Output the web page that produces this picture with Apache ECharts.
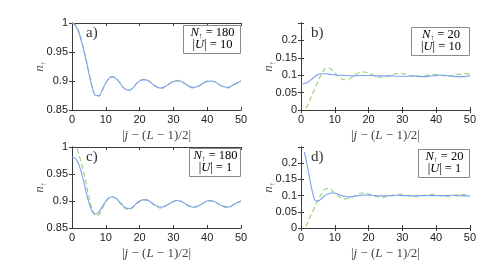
<!DOCTYPE html>
<html><head><meta charset="utf-8">
<script src="https://cdn.jsdelivr.net/npm/echarts@6/dist/echarts.min.js"></script>
<style>html,body{margin:0;padding:0;background:#fff}#c{width:479px;height:261px}</style>
</head><body><div id="c"></div>
<script>
// ---- data ----
const panelLabels = ['a)', 'b)', 'c)', 'd)'];
const legendN = [180, 20, 180, 20];
const legendU = [10, 10, 1, 1];
const xTicks = [0, 10, 20, 30, 40, 50];
const yTicksTop = [0.85, 0.9, 0.95, 1];
const yTicksBottom = [0, 0.05, 0.1, 0.15, 0.2];

const xInt = [0,1,2,3,4,5,6,7,8,9,10,11,12,13,14,15,16,17,18,19,20,21,22,23,24,25,26,27,28,29,30,31,32,33,34,35,36,37,38,39,40,41,42,43,44,45,46,47,48,49,50];

const aBlue = [1.0,0.996,0.984,0.964,0.94,0.913,0.889,0.875,0.875,0.885,0.897,0.905,0.907,0.904,0.898,0.890,0.885,0.884,0.888,0.895,0.900,0.902,0.902,0.899,0.894,0.890,0.888,0.889,0.892,0.896,0.899,0.900,0.900,0.897,0.893,0.890,0.889,0.890,0.893,0.897,0.899,0.900,0.899,0.896,0.892,0.890,0.889,0.891,0.894,0.897,0.900];
const aGreen = [1.0,0.997,0.986,0.966,0.942,0.914,0.889,0.874,0.874,0.884,0.897,0.905,0.908,0.905,0.898,0.890,0.885,0.884,0.888,0.895,0.900,0.903,0.902,0.899,0.894,0.890,0.887,0.888,0.892,0.896,0.899,0.901,0.900,0.897,0.893,0.889,0.888,0.890,0.893,0.897,0.900,0.900,0.899,0.896,0.892,0.889,0.888,0.890,0.894,0.897,0.900];

const bBlue = [0.075,0.076,0.080,0.087,0.095,0.101,0.104,0.104,0.103,0.102,0.101,0.100,0.100,0.099,0.099,0.098,0.098,0.099,0.099,0.099,0.099,0.099,0.098,0.098,0.098,0.098,0.098,0.098,0.097,0.097,0.097,0.097,0.097,0.098,0.098,0.097,0.096,0.096,0.097,0.098,0.099,0.100,0.100,0.099,0.098,0.097,0.096,0.096,0.096,0.097,0.098];
const bGreenX = [1.5,2,3,4,5,6,7,8,9,10,11,12,13,14,15,16,17,18,19,20,21,22,23,24,25,26,27,28,29,30,31,32,33,34,35,36,37,38,39,40,41,42,43,44,45,46,47,48,49,50];
const bGreen = [0.005,0.016,0.038,0.060,0.082,0.102,0.118,0.122,0.117,0.107,0.097,0.090,0.087,0.088,0.093,0.100,0.106,0.109,0.109,0.106,0.102,0.098,0.095,0.094,0.095,0.098,0.101,0.104,0.105,0.105,0.103,0.100,0.097,0.096,0.096,0.097,0.099,0.101,0.102,0.102,0.101,0.099,0.098,0.098,0.099,0.101,0.103,0.104,0.104,0.103];

const cBlue = [0.981,0.979,0.968,0.948,0.922,0.897,0.880,0.876,0.880,0.890,0.900,0.906,0.908,0.905,0.899,0.892,0.887,0.886,0.889,0.895,0.900,0.902,0.902,0.899,0.895,0.891,0.889,0.889,0.892,0.896,0.899,0.901,0.900,0.897,0.893,0.890,0.889,0.890,0.893,0.897,0.900,0.901,0.899,0.896,0.892,0.890,0.889,0.890,0.894,0.897,0.900];
const cGreenX = [1.5,2,3,4,5,6,7,8,9,10,11,12,13,14,15,16,17,18,19,20,21,22,23,24,25,26,27,28,29,30,31,32,33,34,35,36,37,38,39,40,41,42,43,44,45,46,47,48,49,50];
const cGreen = [0.997,0.987,0.965,0.938,0.908,0.884,0.873,0.875,0.886,0.898,0.906,0.908,0.905,0.898,0.890,0.885,0.884,0.888,0.894,0.899,0.902,0.902,0.899,0.894,0.890,0.887,0.888,0.892,0.896,0.899,0.901,0.900,0.897,0.893,0.889,0.888,0.890,0.893,0.897,0.900,0.900,0.899,0.896,0.892,0.889,0.888,0.890,0.894,0.897,0.900];

const dBlueX = [1,2,3,4,5,6,7,8,9,10,11,12,13,14,15,16,17,18,19,20,21,22,23,24,25,26,27,28,29,30,31,32,33,34,35,36,37,38,39,40,41,42,43,44,45,46,47,48,49,50];
const dBlue = [0.235,0.185,0.130,0.088,0.083,0.090,0.099,0.105,0.108,0.107,0.104,0.100,0.097,0.096,0.096,0.098,0.100,0.101,0.102,0.102,0.101,0.100,0.099,0.099,0.099,0.100,0.100,0.101,0.101,0.100,0.100,0.100,0.099,0.099,0.100,0.100,0.100,0.100,0.100,0.100,0.100,0.100,0.100,0.101,0.101,0.100,0.100,0.099,0.099,0.099];
const dGreenX = [1.5,2,3,4,5,6,7,8,9,10,11,12,13,14,15,16,17,18,19,20,21,22,23,24,25,26,27,28,29,30,31,32,33,34,35,36,37,38,39,40,41,42,43,44,45,46,47,48,49,50];
const dGreen = [0.005,0.018,0.040,0.063,0.085,0.105,0.119,0.122,0.117,0.108,0.099,0.093,0.090,0.091,0.095,0.100,0.105,0.108,0.108,0.105,0.101,0.098,0.096,0.095,0.096,0.098,0.101,0.103,0.104,0.103,0.101,0.099,0.097,0.097,0.098,0.100,0.102,0.103,0.103,0.102,0.100,0.098,0.097,0.098,0.100,0.102,0.103,0.103,0.102,0.100];

// ---- chart ----
const BLUE = '#7f9ff5';
const GREEN = '#8ed46c';
const AX = '#3a3a3a';
const grids = [
  {left: 72, top: 23, width: 169, height: 87},
  {left: 301, top: 23, width: 169, height: 87},
  {left: 72, top: 147, width: 169, height: 87},
  {left: 301, top: 147, width: 169, height: 87}
];
const yRanges = [
  {min: 0.85, max: 1, interval: 0.05},
  {min: 0, max: 0.25, interval: 0.05},
  {min: 0.85, max: 1, interval: 0.05},
  {min: 0, max: 0.25, interval: 0.05}
];
const pair = (xs, ys) => xs.map((x, i) => [x, ys[i]]);
const seriesData = [
  [pair(xInt, aBlue), pair(xInt, aGreen)],
  [pair(xInt, bBlue), pair(bGreenX, bGreen)],
  [pair(xInt, cBlue), pair(cGreenX, cGreen)],
  [pair(dBlueX, dBlue), pair(dGreenX, dGreen)]
];
const serif = '"Liberation Serif", "DejaVu Serif", serif';
const sans = '"Liberation Sans", Arial, sans-serif';
const mathRich = {
  i: {fontFamily: serif, fontStyle: 'italic', fontSize: 13, color: '#444'},
  r: {fontFamily: serif, fontSize: 13, color: '#444'},
  s: {fontFamily: serif, fontSize: 8, color: '#444', verticalAlign: 'bottom', padding: [8, 0, 0, 0]}
};

const xAxis = [], yAxis = [], series = [], graphic = [];
grids.forEach((g, k) => {
  const common = {
    gridIndex: k, type: 'value',
    axisLine: {show: true, lineStyle: {color: AX, width: 1}},
    axisTick: {show: true, inside: true, length: 3, lineStyle: {color: AX}},
    splitLine: {show: false}
  };
  xAxis.push(Object.assign({}, common, {
    position: 'bottom', min: xTicks[0], max: xTicks[xTicks.length - 1], interval: 10,
    axisLabel: {color: '#222', fontSize: 11, fontFamily: sans, margin: 4},
    name: '{r||}{i|j}{r| − (}{i|L}{r| − 1)/2|}', nameLocation: 'middle', nameGap: 19,
    nameMoveOverlap: false,
    nameTextStyle: {rich: mathRich}
  }));
  xAxis.push(Object.assign({}, common, {
    position: 'top', min: 0, max: 50, interval: 10, axisLabel: {show: false}
  }));
  const yr = yRanges[k];
  const ticks = (k % 2 === 0) ? yTicksTop : yTicksBottom;
  yAxis.push(Object.assign({}, common, {
    position: 'left', min: yr.min, max: yr.max, interval: yr.interval,
    axisLabel: {
      color: '#222', fontSize: 11, fontFamily: sans, margin: 4,
      formatter: v => {
        const t = ticks.find(tt => Math.abs(tt - v) < 1e-9);
        return t === undefined ? '' : String(t);
      }
    },
    name: '{i|n}{s|↑}', nameLocation: 'middle', nameGap: 24, nameRotate: 90,
    nameMoveOverlap: false,
    nameTextStyle: {rich: mathRich}
  }));
  yAxis.push(Object.assign({}, common, {
    position: 'right', min: yr.min, max: yr.max, interval: yr.interval, axisLabel: {show: false}
  }));
  series.push({
    type: 'line', xAxisIndex: 2 * k, yAxisIndex: 2 * k, data: seriesData[k][1],
    showSymbol: false, smooth: 0.3, clip: true, z: 2,
    lineStyle: {color: GREEN, width: 1.1, type: [5, 3]}
  });
  series.push({
    type: 'line', xAxisIndex: 2 * k, yAxisIndex: 2 * k, data: seriesData[k][0],
    showSymbol: false, smooth: 0.3, clip: true, z: 3,
    lineStyle: {color: BLUE, width: 1.1}
  });
});

const boxes = [
  {x: 183, y: 25, w: 57, h: 28},
  {x: 411, y: 27, w: 58, h: 28},
  {x: 189, y: 148, w: 51, h: 28},
  {x: 418, y: 149, w: 51, h: 28}
];
const legendRich = {
  i: {fontFamily: serif, fontStyle: 'italic', fontSize: 12.5, color: '#333'},
  r: {fontFamily: serif, fontSize: 12.5, color: '#333'},
  s: {fontFamily: serif, fontSize: 7.5, color: '#333', padding: [7, 0, 0, 0]}
};
boxes.forEach((b, k) => {
  graphic.push({
    type: 'rect', shape: {x: b.x + 0.5, y: b.y + 0.5, width: b.w, height: b.h},
    style: {fill: '#fff', stroke: '#8a8a8a', lineWidth: 1}, z: 10
  });
  graphic.push({
    type: 'text', x: b.x + b.w / 2 + 1, y: b.y + 8, z: 11,
    style: {text: '{i|N}{s|↑}{r| = ' + legendN[k] + '}', rich: legendRich, align: 'center', verticalAlign: 'middle'}
  });
  graphic.push({
    type: 'text', x: b.x + b.w / 2 + 1, y: b.y + 20, z: 11,
    style: {text: '{r||}{i|U}{r|| = ' + legendU[k] + '}', rich: legendRich, align: 'center', verticalAlign: 'middle'}
  });
});
const labelPos = [[86, 33], [311, 33], [86, 157], [311, 157]];
labelPos.forEach((p, k) => {
  graphic.push({
    type: 'text', x: p[0], y: p[1], z: 11,
    style: {text: panelLabels[k], font: '15px ' + serif, fill: '#333', verticalAlign: 'middle'}
  });
});

const chart = echarts.init(document.getElementById('c'), null, {renderer: 'canvas'});
chart.setOption({
  animation: false,
  backgroundColor: '#fff',
  grid: grids.map(g => Object.assign({containLabel: false}, g)),
  xAxis, yAxis, series, graphic
});
</script>
</body></html>
